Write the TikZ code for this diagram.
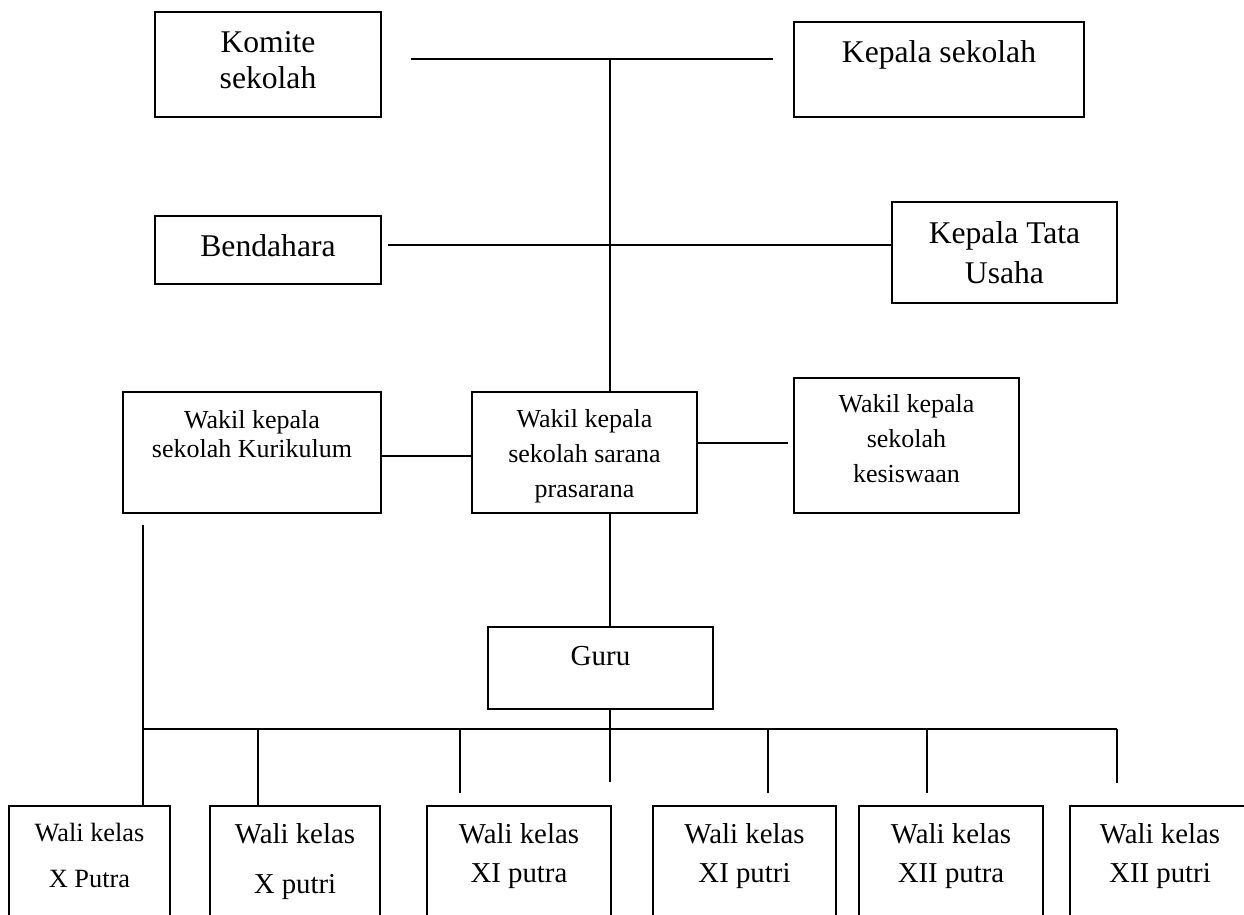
\documentclass[tikz,border=0pt]{standalone}
\usepackage{fontspec}
\setmainfont{Liberation Serif}
\newcommand{\hurufbesar}{\fontsize{18}{20.5}\selectfont}
\newcommand{\hurufsedang}{\fontsize{14.8}{20}\selectfont}
\newcommand{\hurufwali}{\fontsize{16.4}{22.2}\selectfont}
\begin{document}
\begin{tikzpicture}[x=0.02cm,y=-0.02cm,
	kotak/.style={draw,line width=1.1pt,inner sep=0pt,align=center},
	wali/.style={kotak,anchor=north,text height=1.54cm,text depth=0.96cm,font=\hurufwali},
	garis/.style={line width=1.1pt}]
	\useasboundingbox (0,0) rectangle (1244,915);
	\clip (0,0) rectangle (1244,915);
	% pimpinan
	\node[kotak,minimum width=4.52cm,text height=1.54cm,text depth=0.56cm,font=\hurufbesar] (komite) at (268,64.5) {Komite\\sekolah};
	\node[kotak,minimum width=5.8cm,text height=0.82cm,text depth=1.08cm,font=\hurufbesar] (kepsek) at (939,69.5) {Kepala sekolah};
	\node[kotak,minimum width=4.52cm,text height=0.82cm,text depth=0.54cm,font=\hurufbesar] (bendahara) at (268,250) {Bendahara};
	\node[kotak,minimum width=4.5cm,text height=1.64cm,text depth=0.38cm,font=\fontsize{18}{23.3}\selectfont] (ktu) at (1004.5,252.5) {Kepala Tata\\Usaha};
	% wakil kepala sekolah
	\node[kotak,minimum width=5.16cm,text height=1.32cm,text depth=1.10cm,font=\fontsize{14.8}{17}\selectfont] (kurikulum) at (252,452.5) {Wakil kepala\\sekolah Kurikulum};
	\node[kotak,minimum width=4.5cm,text height=2.12cm,text depth=0.30cm,font=\hurufsedang] (sarana) at (584.5,452.5) {Wakil kepala\\sekolah sarana\\prasarana};
	\node[kotak,minimum width=4.5cm,text height=2.10cm,text depth=0.60cm,font=\hurufsedang] (kesiswaan) at (906.5,445.5) {Wakil kepala\\sekolah\\kesiswaan};
	\node[kotak,minimum width=4.5cm,text height=0.76cm,text depth=0.88cm,font=\fontsize{16.5}{20}\selectfont] (guru) at (600.5,668) {Guru};
	% wali kelas
	\node[wali,minimum width=3.22cm,text height=1.64cm,text depth=0.86cm,font=\fontsize{15}{26.7}\selectfont] (xa) at (89.5,805) {Wali kelas\\X Putra};
	\node[wali,minimum width=3.4cm,text height=1.76cm,text depth=0.74cm,font=\fontsize{16.4}{28.5}\selectfont] (xb) at (295,805) {Wali kelas\\X putri};
	\node[wali,minimum width=3.68cm] (xc) at (519,805) {Wali kelas\\XI putra};
	\node[wali,minimum width=3.66cm] (xd) at (744.5,805) {Wali kelas\\XI putri};
	\node[wali,minimum width=3.68cm] (xe) at (951,805) {Wali kelas\\XII putra};
	\node[wali,minimum width=3.6cm] (xf) at (1160,805) {Wali kelas\\XII putri};
	% garis
	\coordinate (ki) at (411,59);
	\coordinate (ka) at (773,59);
	\coordinate (tengah) at (610,59);
	\coordinate (bawah) at (610,782);
	\coordinate (kiri) at (143,525);
	\coordinate (bus) at (143,729);
	\draw[garis] (ki) -- (ka);
	\draw[garis] (tengah) -- (tengah |- sarana.north);
	\draw[garis] ([xshift=0.12cm,yshift=0.1cm]bendahara.east) -- ([yshift=0.1cm]bendahara.east -| ktu.west);
	\draw[garis] ([yshift=-0.07cm]kurikulum.east) -- ([yshift=-0.07cm]kurikulum.east -| sarana.west);
	\draw[garis] ([yshift=0.19cm]sarana.east) -- ([yshift=0.19cm,xshift=-0.1cm]sarana.east -| kesiswaan.west);
	\draw[garis] (tengah |- sarana.south) -- (tengah |- guru.north);
	\draw[garis] (tengah |- guru.south) -- (bawah);
	\draw[garis] (kiri) -- (kiri |- xa.north);
	\draw[garis] (bus) -- (bus -| 1117,0);
	\foreach \n/\x/\y in {d2/258/805,d3/460/793,d4/768/793,d5/927/793,d6/1117/783}{
		\coordinate (\n) at (\x,\y);
		\draw[garis] (\n |- bus) -- (\n);
	}
\end{tikzpicture}
\end{document}
